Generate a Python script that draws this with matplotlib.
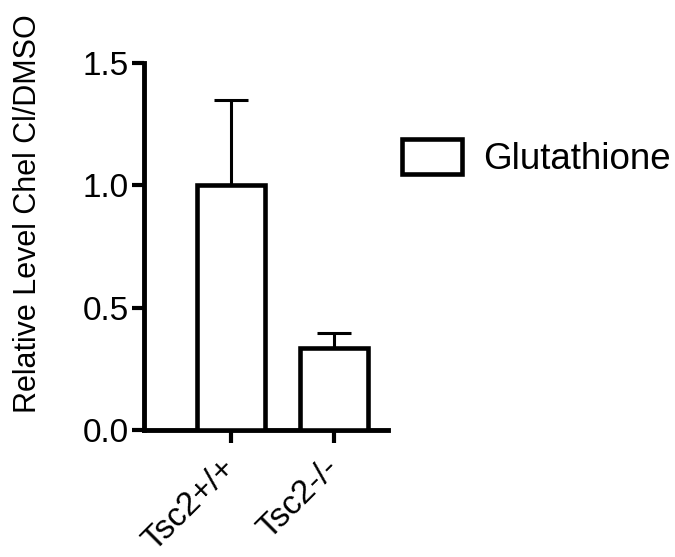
import matplotlib.pyplot as plt

plt.rcParams['font.family'] = ['Liberation Sans', 'DejaVu Sans']

groups = ["Tsc2+/+", "Tsc2-/-"]
means = [1.0, 0.335]
sem_up = [0.347, 0.061]
series_name = "Glutathione"

fig = plt.figure(figsize=(6.75, 5.57), dpi=100)
ax = fig.add_axes([0.2133, 0.228, 0.3615, 0.6595])

x = range(len(groups))
ax.bar(x, means, width=0.66, color="white", edgecolor="black", linewidth=3.3,
       label=series_name, zorder=3)
ax.errorbar(x, means, yerr=[[0, 0], sem_up], fmt="none", ecolor="black",
            elinewidth=2.2, capsize=12.5, capthick=2.2, zorder=2)

ax.set_xlim(-0.845, 1.52)
ax.set_ylim(0, 1.5)
ax.set_yticks([0.0, 0.5, 1.0, 1.5])
ax.set_yticklabels(["0.0", "0.5", "1.0", "1.5"])
ax.set_xticks(list(x))
ax.set_xticklabels(groups, rotation=45, ha="right", va="center",
                   rotation_mode="anchor")

for side in ["top", "right"]:
    ax.spines[side].set_visible(False)
for side in ["left", "bottom"]:
    ax.spines[side].set_linewidth(3.5)

ax.tick_params(axis="y", direction="out", length=9, width=3, labelsize=24, pad=2)
ax.tick_params(axis="x", direction="out", length=9, width=3, labelsize=24, pad=15)

ax.set_ylabel("Relative Level Chel Cl/DMSO", fontsize=22)
ax.yaxis.set_label_coords(-0.414, 0.589)

fig.legend(loc="center left", bbox_to_anchor=(0.596, 0.716), frameon=False,
           fontsize=26.5, borderpad=0, borderaxespad=0, handlelength=1.63,
           handleheight=1.05, handletextpad=0.57)

fig.savefig("out.png", dpi=100)
